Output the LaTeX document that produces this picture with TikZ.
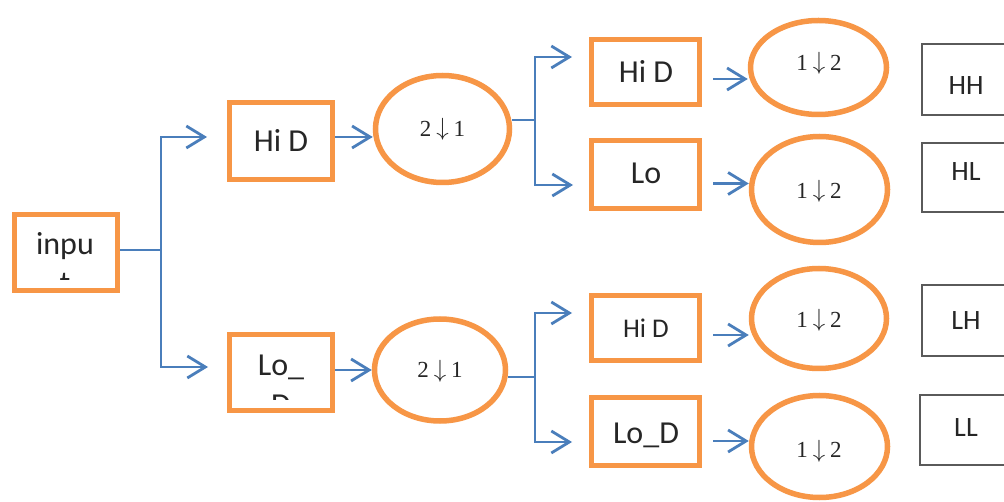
\documentclass[tikz,border=0pt]{standalone}
\usepackage{fontspec}
\setmainfont{Carlito}
\newfontfamily\numfont{Liberation Serif}
\usetikzlibrary{arrows.meta,shapes.geometric}
\definecolor{org}{HTML}{F79646}
\definecolor{blu}{HTML}{4A7EBB}
\definecolor{gry}{HTML}{5A5A5A}
\newcommand{\dn}{\hspace{5pt}\raisebox{0.5pt}{$\downarrow$}\hspace{5pt}}
\begin{document}
\begin{tikzpicture}[x=1pt,y=-1pt,
  obox/.style={draw=org, line width=5.5pt, inner sep=0pt, minimum width=103pt, minimum height=76pt},
  sbox/.style={draw=org, line width=5.5pt, inner sep=0pt, minimum width=108pt},
  oell/.style={draw=org, line width=5.5pt, ellipse, inner sep=0pt},
  gbox/.style={draw=gry, line width=1.3pt, inner sep=0pt, minimum width=90pt, minimum height=70pt},
  txt/.style={anchor=base, inner sep=0pt, text=black!85, font=\fontsize{32}{39}\selectfont},
  stxt/.style={anchor=base, inner sep=0pt, text=black!85, font=\fontsize{27}{33}\selectfont},
  ltxt/.style={anchor=base, inner sep=0pt, text=black!85, font=\fontsize{28}{34}\selectfont},
  ntxt/.style={anchor=base, inner sep=0pt, text=black!85, font=\numfont\fontsize{23}{27}\selectfont},
  wire/.style={draw=blu, line width=2.8pt},
  arr/.style={draw=blu, line width=2.8pt, -{Straight Barb[length=18pt,width=22pt,line width=2.8pt]}}
]
\useasboundingbox (0,0) rectangle (1004,502);
\fill[white] (0,0) rectangle (1004,502);

% input
\node[obox] (in) at (66,252.5) {};
\node[txt] (intxt) at (65,255) {inpu};
\begin{scope}
  \clip (10,200) rectangle (120,280);
  \node[txt] (intxt2) at (65,294) {t};
\end{scope}

% first stage boxes
\node[obox, minimum height=77pt] (hd1) at (281,141) {};
\node[txt] (hd1t) at (281,152) {Hi D};
\node[obox] (lo1) at (281,372.5) {};
\node[txt] (lo1t) at (281,376) {Lo\_};
\begin{scope}
  \clip (220,340) rectangle (340,400);
  \node[txt] (lo1t2) at (281,415) {D};
\end{scope}

% first stage ellipses
\node[oell, minimum width=134pt, minimum height=107pt] (e1) at (442.5,129) {};
\node[ntxt] (e1t) at (442.5,136.5) {2\dn1};
\node[oell, minimum width=131pt, minimum height=102pt] (e2) at (440,370) {};
\node[ntxt] (e2t) at (440,377.5) {2\dn1};

% second stage boxes
\node[sbox, minimum height=65pt] (hd2) at (645.5,72) {};
\node[txt] (hd2t) at (646,83) {Hi D};
\node[sbox, minimum height=68pt] (lo2) at (645.5,174.5) {};
\node[txt] (lo2t) at (646,184) {Lo};
\node[sbox, minimum height=65pt] (hd3) at (645.5,328) {};
\node[stxt] (hd3t) at (646,338) {Hi D};
\node[sbox, minimum height=68pt] (lo3) at (645.5,431.5) {};
\node[txt] (lo3t) at (646,443) {Lo\_D};

% second stage ellipses
\node[oell, minimum width=136pt, minimum height=94pt] (f1) at (818.5,67.5) {};
\node[ntxt] (f1t) at (819,70.5) {1\dn2};
\node[oell, minimum width=136pt, minimum height=106pt] (f2) at (819.5,189.5) {};
\node[ntxt] (f2t) at (819,198.5) {1\dn2};
\node[oell, minimum width=135pt, minimum height=100pt] (f3) at (819,318.5) {};
\node[ntxt] (f3t) at (819,327.5) {1\dn2};
\node[oell, minimum width=136pt, minimum height=102pt] (f4) at (819.5,446.5) {};
\node[ntxt] (f4t) at (819,457.5) {1\dn2};

% output boxes
\node[gbox, minimum height=71pt] (hh) at (967,79.5) {};
\node[ltxt] (hht) at (966,95) {HH};
\node[gbox, minimum height=69pt] (hl) at (967,177.5) {};
\node[ltxt] (hlt) at (966,181) {HL};
\node[gbox, minimum height=71pt] (lh) at (967,320.5) {};
\node[ltxt] (lht) at (966,330) {LH};
\node[gbox, minimum height=70pt] (ll) at (965,430) {};
\node[ltxt] (llt) at (966,436) {LL};

% connectors
\coordinate (j1) at (161,250);
\coordinate (a1) at (207,137);
\coordinate (a2) at (208,367);
\draw[wire] (in.east |- j1) -- (j1);
\draw[arr] (j1) |- (a1);
\draw[arr] (j1) |- (a2);

\draw[arr] ([yshift=4pt]hd1.east) -- ([yshift=4pt]hd1.east -| e1.west);
\draw[arr] ([yshift=2.5pt]lo1.east) -- ([yshift=2.5pt]lo1.east -| e2.west);

\coordinate (j2) at (535,120);
\coordinate (b1) at (572,57);
\coordinate (b2) at (573,185);
\draw[wire] (e1.east |- j2) -- (j2);
\draw[arr] (j2) |- (b1);
\draw[arr] (j2) |- (b2);

\coordinate (j3) at (535,377);
\coordinate (b3) at (572,313);
\coordinate (b4) at (572,442);
\draw[wire] (e2.east |- j3) -- (j3);
\draw[arr] (j3) |- (b3);
\draw[arr] (j3) |- (b4);

\draw[arr] ([xshift=11pt,yshift=-7pt]hd2.east) -- ([yshift=-7pt]hd2.east -| f1.west);
\draw[arr] ([xshift=11pt,yshift=-9pt]lo2.east) -- ([yshift=-9pt]lo2.east -| f2.west);
\draw[arr] ([xshift=11pt,yshift=-7pt]hd3.east) -- ([yshift=-7pt]hd3.east -| f3.west);
\draw[arr] ([xshift=11pt,yshift=-9.5pt]lo3.east) -- ([yshift=-9.5pt]lo3.east -| f4.west);
\end{tikzpicture}
\end{document}
